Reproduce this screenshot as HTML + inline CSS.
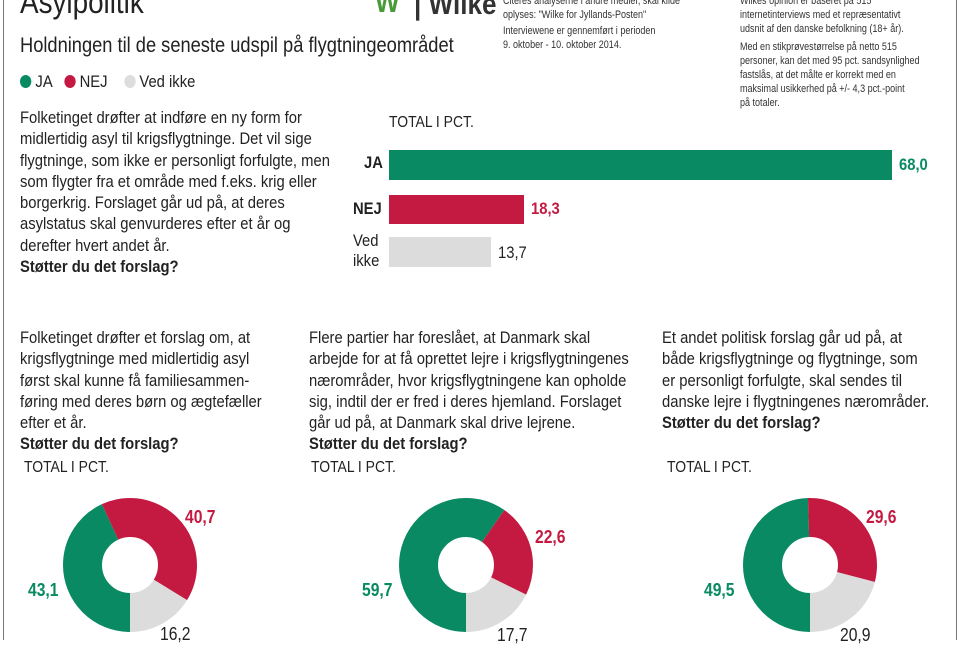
<!DOCTYPE html>
<html><head><meta charset="utf-8"><style>
body{margin:0;width:960px;height:640px;background:#fff;overflow:hidden;position:relative;font-family:"Liberation Sans Narrow","Liberation Sans",sans-serif;color:#222}
.t,.p,.s{transform:scaleX(.87);transform-origin:0 0}
.t{position:absolute;white-space:nowrap}
.p{position:absolute;font-size:17px;line-height:21.3px;white-space:nowrap}
.b{font-weight:bold}
.s{position:absolute;font-size:11px;line-height:14px;white-space:nowrap;color:#333;transform:scaleX(.82)}
</style></head><body>
<div style="position:absolute;left:3px;top:0;width:952px;height:640px;border-left:1.5px solid #777;border-right:1.5px solid #777"></div>
<div class="t" style="left:20px;top:-16px;font-size:32px">Asylpolitik</div>
<div class="t" style="left:20px;top:34px;font-size:21px">Holdningen til de seneste udspil på flygtningeområdet</div>
<div class="t" style="left:20px;top:72px;font-size:17px"><span style="display:inline-block;width:13px;height:13px;border-radius:50%;background:#0a8a62;vertical-align:-1px"></span> JA &nbsp;&nbsp;<span style="display:inline-block;width:13px;height:13px;border-radius:50%;background:#c41a42;vertical-align:-1px"></span> NEJ &nbsp;&nbsp;&nbsp;<span style="display:inline-block;width:13px;height:13px;border-radius:50%;background:#ddd;vertical-align:-1px"></span> Ved ikke</div>
<div class="t" style="left:375px;top:-14px;font-size:30px;font-weight:bold;color:#4a9a3a">W</div>
<div class="t" style="left:414px;top:-12px;font-size:30px;font-weight:bold;color:#333">| Wilke</div>
<div class="s" style="left:503px;top:-6px">Citeres analyserne i andre medier, skal kilde<br>oplyses: "Wilke for Jyllands-Posten"</div>
<div class="s" style="left:503px;top:24px">Interviewene er gennemført i perioden<br>9. oktober - 10. oktober 2014.</div>
<div class="s" style="left:740px;top:-6px">Wilkes opinion er baseret på 515<br>internetinterviews med et repræsentativt<br>udsnit af den danske befolkning (18+ år).</div>
<div class="s" style="left:740px;top:40px">Med en stikprøvestørrelse på netto 515<br>personer, kan det med 95 pct. sandsynlighed<br>fastslås, at det målte er korrekt med en<br>maksimal usikkerhed på +/- 4,3 pct.-point<br>på totaler.</div>
<div class="p" style="left:20px;top:107px">Folketinget drøfter at indføre en ny form for<br>midlertidig asyl til krigsflygtninge. Det vil sige<br>flygtninge, som ikke er personligt forfulgte, men<br>som flygter fra et område med f.eks. krig eller<br>borgerkrig. Forslaget går ud på, at deres<br>asylstatus skal genvurderes efter et år og<br>derefter hvert andet år.<br><span class="b">Støtter du det forslag?</span></div>
<div class="t" style="left:389px;top:114px;font-size:16px">TOTAL I PCT.</div>
<div style="position:absolute;left:389px;top:150px;width:503px;height:30px;background:#0a8a62"></div>
<div style="position:absolute;left:389px;top:195px;width:135px;height:29px;background:#c41a42"></div>
<div style="position:absolute;left:389px;top:237px;width:102px;height:30px;background:#dcdcdc"></div>
<div class="t b" style="left:364px;top:153px;font-size:17px">JA</div>
<div class="t b" style="left:353px;top:199px;font-size:17px">NEJ</div>
<div class="t" style="left:353px;top:231px;font-size:17px;line-height:20px">Ved<br>ikke</div>
<div class="t b" style="left:899px;top:155px;font-size:17px;color:#0a8a62">68,0</div>
<div class="t b" style="left:531px;top:199px;font-size:17px;color:#c41a42">18,3</div>
<div class="t" style="left:498px;top:243px;font-size:17px">13,7</div>
<div class="p" style="left:20px;top:327px">Folketinget drøfter et forslag om, at<br>krigsflygtninge med midlertidig asyl<br>først skal kunne få familiesammen-<br>føring med deres børn og ægtefæller<br>efter et år.<br><span class="b">Støtter du det forslag?</span></div>
<div class="p" style="left:309px;top:327px">Flere partier har foreslået, at Danmark skal<br>arbejde for at få oprettet lejre i krigsflygtningenes<br>nærområder, hvor krigsflygtningene kan opholde<br>sig, indtil der er fred i deres hjemland. Forslaget<br>går ud på, at Danmark skal drive lejrene.<br><span class="b">Støtter du det forslag?</span></div>
<div class="p" style="left:662px;top:327px">Et andet politisk forslag går ud på, at<br>både krigsflygtninge og flygtninge, som<br>er personligt forfulgte, skal sendes til<br>danske lejre i flygtningenes nærområder.<br><span class="b">Støtter du det forslag?</span></div>
<div class="t" style="left:24px;top:459px;font-size:16px">TOTAL I PCT.</div>
<div class="t" style="left:311px;top:459px;font-size:16px">TOTAL I PCT.</div>
<div class="t" style="left:667px;top:459px;font-size:16px">TOTAL I PCT.</div>
<svg width="960" height="640" style="position:absolute;left:0;top:0">
<g fill="none" stroke-width="39">
<g transform="translate(130,565) rotate(90)">
<circle r="47.5" pathLength="100" stroke="#0a8a62" stroke-dasharray="43.1 100"/>
<circle r="47.5" pathLength="100" stroke="#c41a42" stroke-dasharray="0 43.1 40.7 100"/>
<circle r="47.5" pathLength="100" stroke="#dcdcdc" stroke-dasharray="0 83.8 16.2 100"/>
</g>
<g transform="translate(466,565) rotate(90)">
<circle r="47.5" pathLength="100" stroke="#0a8a62" stroke-dasharray="59.7 100"/>
<circle r="47.5" pathLength="100" stroke="#c41a42" stroke-dasharray="0 59.7 22.6 100"/>
<circle r="47.5" pathLength="100" stroke="#dcdcdc" stroke-dasharray="0 82.3 17.7 100"/>
</g>
<g transform="translate(810,565) rotate(90)">
<circle r="47.5" pathLength="100" stroke="#0a8a62" stroke-dasharray="49.5 100"/>
<circle r="47.5" pathLength="100" stroke="#c41a42" stroke-dasharray="0 49.5 29.6 100"/>
<circle r="47.5" pathLength="100" stroke="#dcdcdc" stroke-dasharray="0 79.1 20.9 100"/>
</g>
</g>
</svg>
<div class="t b" style="left:185px;top:507px;font-size:18px;color:#c41a42">40,7</div>
<div class="t b" style="left:28px;top:580px;font-size:18px;color:#0a8a62">43,1</div>
<div class="t" style="left:160px;top:624px;font-size:18px">16,2</div>
<div class="t b" style="left:535px;top:527px;font-size:18px;color:#c41a42">22,6</div>
<div class="t b" style="left:362px;top:580px;font-size:18px;color:#0a8a62">59,7</div>
<div class="t" style="left:497px;top:625px;font-size:18px">17,7</div>
<div class="t b" style="left:866px;top:507px;font-size:18px;color:#c41a42">29,6</div>
<div class="t b" style="left:704px;top:580px;font-size:18px;color:#0a8a62">49,5</div>
<div class="t" style="left:840px;top:625px;font-size:18px">20,9</div>
</body></html>
